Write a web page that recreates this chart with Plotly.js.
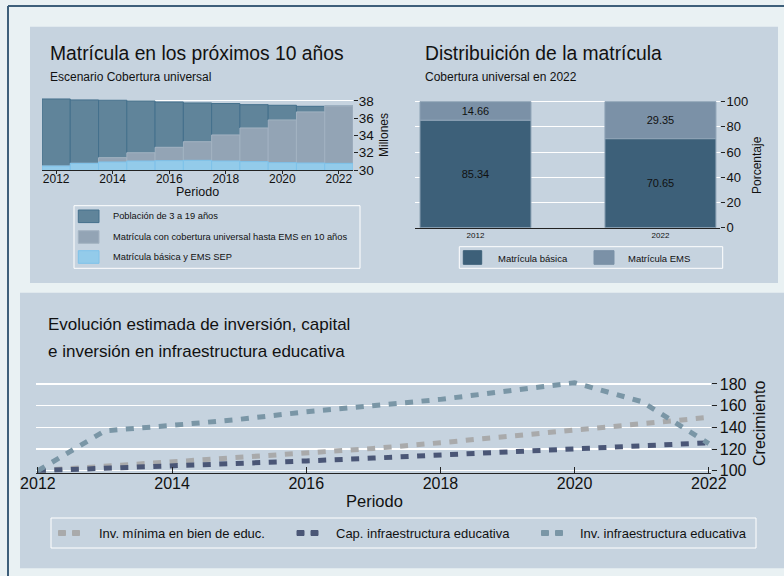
<!DOCTYPE html>
<html>
<head>
<meta charset="utf-8">
<script src="https://cdn.plot.ly/plotly-3.0.1.min.js"></script>
<style>
html,body{margin:0;padding:0;background:#e9f1f3;}
#chart{width:784px;height:576px;}
path.js-line{stroke-linecap:butt !important;}
</style>
</head>
<body>
<div id="chart"></div>
<script>
// ---------- DATA ----------
const years = [2012, 2013, 2014, 2015, 2016, 2017, 2018, 2019, 2020, 2021, 2022];
const yearTicks = [2012, 2014, 2016, 2018, 2020, 2022];
// Panel 1: millones
const poblacion = [38.23, 38.12, 38.08, 38.00, 37.88, 37.77, 37.70, 37.57, 37.50, 37.38, 37.40];
const matUniversal = [30.46, 30.78, 31.43, 32.00, 32.63, 33.28, 34.06, 34.87, 35.80, 36.73, 37.42];
const matSEP = [30.46, 30.77, 30.93, 31.04, 31.08, 31.12, 31.04, 30.97, 30.85, 30.81, 30.77];
const millonesTicks = [30, 32, 34, 36, 38];
// Panel 2: porcentaje
const distCats = ['2012', '2022'];
const basica = [85.34, 70.65];
const ems = [14.66, 29.35];
const pctTicks = [0, 20, 40, 60, 80, 100];
// Panel 3: crecimiento
const invMinima = [100, 104, 108, 111.5, 115.4, 120.5, 125.8, 131.3, 137.2, 143.3, 149.2];
const capInfra = [100, 102, 104, 106.5, 109, 111.6, 114.5, 117.3, 120.3, 123, 125.8];
const invInfra = [100, 136.8, 141.8, 147.4, 154.3, 159.7, 165.8, 173.5, 181.2, 163.7, 125];
const crecTicks = [100, 120, 140, 160, 180];
const legend1 = ['Población de 3 a 19 años', 'Matrícula con cobertura universal hasta EMS en 10 años', 'Matrícula básica y EMS SEP'];
const legend2 = ['Matrícula básica', 'Matrícula EMS'];
const legend3 = ['Inv. mínima en bien de educ.', 'Cap. infraestructura educativa', 'Inv. infraestructura educativa'];

// ---------- STYLE ----------
const W = 784, H = 576;
const px = x => x / W;
const py = y => 1 - y / H;
const FONT = 'Liberation Sans, Arial, Helvetica, sans-serif';
const TXT = '#111111';
const PANEL = '#c6d3df';
const cPob = '#60849a', lPob = '#44708c';
const cUni = '#93a4b5', lUni = '#a3b3c2';
const cSep = '#93cbea', lSep = '#7ec2ea';
const cBas = '#3d6079', cEms = '#7b91a7';
const cMin = '#a9aaab', cCap = '#4a5676', cInf = '#7a96a6';
const DASH = '8px,8.5px';

const traces = [
  {type: 'bar', x: years, y: poblacion, xaxis: 'x', yaxis: 'y', width: 1,
   marker: {color: cPob, line: {color: lPob, width: 1}}},
  {type: 'bar', x: years, y: matUniversal, xaxis: 'x', yaxis: 'y', width: 1,
   marker: {color: cUni, line: {color: lUni, width: 1}}},
  {type: 'bar', x: years, y: matSEP, xaxis: 'x', yaxis: 'y', width: 1,
   marker: {color: cSep, line: {color: lSep, width: 1}}},
  {type: 'bar', x: distCats, y: basica, xaxis: 'x2', yaxis: 'y2', width: 0.6,
   marker: {color: cBas, line: {color: '#8ea3b6', width: 1}},
   text: basica.map(v => v.toFixed(2)), textposition: 'inside', insidetextanchor: 'middle',
   textangle: 0, constraintext: 'none', textfont: {family: FONT, size: 11, color: TXT}},
  {type: 'bar', x: distCats, y: ems, base: basica, xaxis: 'x2', yaxis: 'y2', width: 0.6,
   marker: {color: cEms, line: {color: '#8ea3b6', width: 1}},
   text: ems.map(v => v.toFixed(2)), textposition: 'inside', insidetextanchor: 'middle',
   textangle: 0, constraintext: 'none', textfont: {family: FONT, size: 11, color: TXT}},
  {type: 'scatter', mode: 'lines', x: years, y: invMinima, xaxis: 'x3', yaxis: 'y3',
   line: {color: cMin, width: 5, dash: DASH}},
  {type: 'scatter', mode: 'lines', x: years, y: capInfra, xaxis: 'x3', yaxis: 'y3',
   line: {color: cCap, width: 5, dash: DASH}},
  {type: 'scatter', mode: 'lines', x: years, y: invInfra, xaxis: 'x3', yaxis: 'y3',
   line: {color: cInf, width: 5, dash: DASH}}
];

const shapes = [
  {type: 'rect', xref: 'paper', yref: 'paper', x0: px(30), x1: px(778), y0: py(283), y1: py(26.7), fillcolor: PANEL, line: {width: 0}, layer: 'below'},
  {type: 'rect', xref: 'paper', yref: 'paper', x0: px(20), x1: px(784), y0: py(568.3), y1: py(292.7), fillcolor: PANEL, line: {width: 0}, layer: 'below'},
  {type: 'line', xref: 'paper', yref: 'paper', x0: px(8), x1: px(784), y0: py(6), y1: py(6), line: {color: '#3e5f7a', width: 2}},
  {type: 'line', xref: 'paper', yref: 'paper', x0: px(8), x1: px(8), y0: py(6), y1: py(576), line: {color: '#3e5f7a', width: 2}},
  // legend boxes
  {type: 'rect', xref: 'paper', yref: 'paper', x0: px(74), x1: px(360), y0: py(268.3), y1: py(205.7), line: {color: '#ffffff', width: 1}},
  {type: 'rect', xref: 'paper', yref: 'paper', x0: px(459.3), x1: px(722.7), y0: py(268.3), y1: py(246.7), line: {color: '#ffffff', width: 1}},
  {type: 'rect', xref: 'paper', yref: 'paper', x0: px(51), x1: px(756), y0: py(548), y1: py(518), line: {color: '#ffffff', width: 1}}
];
const annotations = [];
function addText(t, x, y, size, opts) {
  annotations.push(Object.assign({text: t, xref: 'paper', yref: 'paper', x: px(x), y: py(y), showarrow: false,
    xanchor: 'left', yanchor: 'middle', font: {family: FONT, size: size, color: TXT}}, opts || {}));
}
function addKey(x0, x1, y0, y1, fill, line) {
  shapes.push({type: 'rect', xref: 'paper', yref: 'paper', x0: px(x0), x1: px(x1), y0: py(y1), y1: py(y0),
    fillcolor: fill, line: {color: line, width: 1}});
}
// legend 1
const l1c = [[cPob, lPob], [cUni, lUni], [cSep, lSep]];
const l1y = [216.3, 237, 257];
legend1.forEach((t, i) => {
  addKey(78.3, 99, l1y[i] - 6.3, l1y[i] + 6.3, l1c[i][0], l1c[i][1]);
  addText(t, 110.7, l1y[i], 9.3);
});
// legend 2
addKey(463.3, 481.7, 250.7, 264.3, cBas, cBas);
addText(legend2[0], 495.7, 258, 9.5);
addKey(594, 614, 250.7, 264.3, cEms, cEms);
addText(legend2[1], 625.7, 258, 9.5);
// legend 3
const l3c = [cMin, cCap, cInf];
const l3k = [58.5, 297, 541.5];
const l3t = [96.6, 334, 578];
legend3.forEach((t, i) => {
  addKey(l3k[i], l3k[i] + 7, 530.5, 535.5, l3c[i], l3c[i]);
  addKey(l3k[i] + 14, l3k[i] + 21, 530.5, 535.5, l3c[i], l3c[i]);
  addText(t, l3t[i], 533, 13);
});
// titles
addText('Matrícula en los próximos 10 años', 48, 53.5, 19.3);
addText('Escenario Cobertura universal', 48, 76.7, 12);
addText('Distribuición de la matrícula', 422.7, 53.7, 19.3);
addText('Cobertura universal en 2022', 422.7, 76.7, 12);
addText('Evolución estimada de inversión, capital', 46.3, 324.5, 17);
addText('e inversión en infraestructura educativa', 46.3, 351.5, 17);
// axis titles
addText('Periodo', 198, 192.3, 12.5, {xanchor: 'center'});
addText('Millones', 384, 135, 12, {xanchor: 'center', textangle: -90});
addText('Porcentaje', 757, 165, 12, {xanchor: 'center', textangle: -90});
addText('Periodo', 374, 500.7, 16.5, {xanchor: 'center'});
addText('Crecimiento', 759, 424, 16, {xanchor: 'center', textangle: -90});

const axBase = {showgrid: false, zeroline: false, fixedrange: true, tickcolor: '#222', ticklen: 4, tickwidth: 1};
const layout = {
  width: W, height: H, margin: {l: 0, r: 0, t: 0, b: 0}, showlegend: false,
  paper_bgcolor: '#e9f1f3', plot_bgcolor: PANEL, barmode: 'overlay', hovermode: false,
  font: {family: FONT, color: TXT},
  xaxis: Object.assign({}, axBase, {domain: [px(42), px(353)], range: [2011.5, 2022.5], anchor: 'y',
    tickvals: yearTicks, ticks: 'outside', ticklen: 3, showline: true, linecolor: '#222', linewidth: 1,
    ticklabelstandoff: -5, tickfont: {family: FONT, size: 12, color: TXT}}),
  yaxis: Object.assign({}, axBase, {domain: [py(170), py(97.5)], range: [30, 38.4], anchor: 'x', side: 'right',
    tickvals: millonesTicks, ticks: 'outside', showgrid: true, gridcolor: '#ffffff', gridwidth: 1,
    ticklabelstandoff: -2, tickfont: {family: FONT, size: 13.5, color: TXT}}),
  xaxis2: Object.assign({}, axBase, {type: 'category', domain: [px(415), px(720)], range: [-0.327, 1.322], anchor: 'y2',
    ticks: '', showline: true, linecolor: '#222', linewidth: 1,
    tickfont: {family: FONT, size: 8, color: TXT}}),
  yaxis2: Object.assign({}, axBase, {domain: [py(227.7), py(100.4)], range: [0, 101], anchor: 'x2', side: 'right',
    tickvals: pctTicks, ticks: 'outside', showgrid: true, gridcolor: '#ffffff', gridwidth: 1,
    ticklabelstandoff: -1, tickfont: {family: FONT, size: 13, color: TXT}}),
  xaxis3: Object.assign({}, axBase, {domain: [px(35.6), px(710.6)], range: [2011.966, 2022.027], anchor: 'y3',
    tickvals: yearTicks, ticks: 'inside', ticklen: 6, showline: true, linecolor: '#222', linewidth: 1,
    ticklabelstandoff: -4, tickfont: {family: FONT, size: 16, color: TXT}}),
  yaxis3: Object.assign({}, axBase, {domain: [py(472.7), py(375.3)], range: [98.15, 188], anchor: 'x3', side: 'right',
    tickvals: crecTicks, ticks: 'outside', ticklen: 5, showgrid: true, gridcolor: '#ffffff', gridwidth: 1.2,
    tickfont: {family: FONT, size: 16, color: TXT}}),
  shapes: shapes, annotations: annotations
};
Plotly.newPlot('chart', traces, layout, {staticPlot: true, displayModeBar: false});
</script>
</body>
</html>
